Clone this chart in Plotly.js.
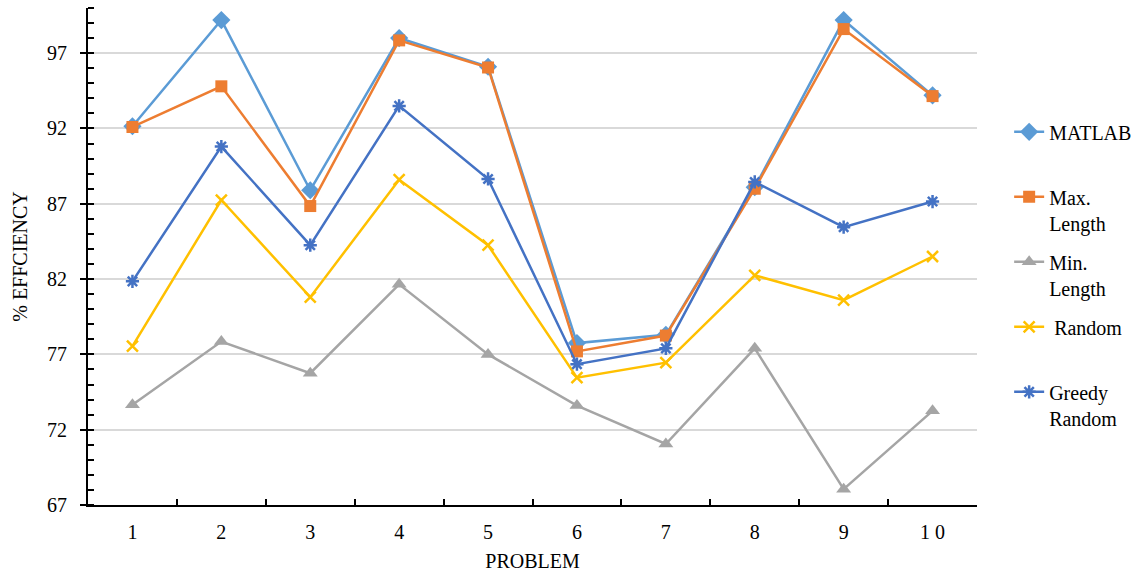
<!DOCTYPE html>
<html>
<head>
<meta charset="utf-8">
<script src="https://cdn.plot.ly/plotly-3.0.1.min.js"></script>
<style>html,body{margin:0;padding:0;background:#fff;}#chart{width:1144px;height:579px;}</style>
</head>
<body>
<div id="chart"></div>
<script>
const problems = ["1","2","3","4","5","6","7","8","9","10"];
const problemLabels = ["1","2","3","4","5","6","7","8","9","1 0"];
const matlab = [92.15, 99.2, 87.9, 98.0, 96.1, 77.75, 78.3, 88.1, 99.2, 94.2];
const maxLength = [92.1, 94.8, 86.85, 97.85, 96.05, 77.2, 78.25, 88.0, 98.6, 94.15];
const minLength = [73.65, 77.85, 75.75, 81.65, 77.0, 73.6, 71.05, 77.4, 68.05, 73.25];
const randomV = [77.55, 87.25, 80.8, 88.6, 84.25, 75.45, 76.45, 82.25, 80.6, 83.5];
const greedyRandom = [81.85, 90.8, 84.25, 93.5, 88.65, 76.35, 77.4, 88.45, 85.45, 87.15];

const names = ["MATLAB<br>\u00a0", "Max.<br>Length", "Min.<br>Length", "\u00a0Random<br>\u00a0", "Greedy<br>Random"];
const series = [matlab, maxLength, minLength, randomV, greedyRandom];
const colors = ["#5B9BD5", "#ED7D31", "#A5A5A5", "#FFC000", "#4472C4"];
const symbols = ["diamond", "square", "triangle-up", "x-thin-open", "asterisk-open"];
const sizes = [14, 12, 13, 11, 11];

const traces = series.map((s, i) => ({
  type: "scatter",
  mode: "lines+markers",
  x: problems,
  y: s,
  name: names[i],
  legendgroup: "g" + i,
  line: {color: colors[i], width: 2.5},
  marker: {symbol: symbols[i], size: sizes[i], color: colors[i], line: {color: colors[i], width: (i >= 3 ? 2.5 : 0)}}
}));

const font = {family: "Liberation Serif, Times New Roman, serif", size: 20, color: "#000"};

const layout = {
  width: 1144, height: 579,
  margin: {l: 88, r: 166, t: 8, b: 74},
  paper_bgcolor: "#fff", plot_bgcolor: "#fff",
  font: font,
  showlegend: true,
  legend: {
    x: 1.035, xanchor: "left", y: 0.79, yanchor: "top",
    font: font, valign: "top", traceorder: "grouped", tracegroupgap: 10,
    bgcolor: "rgba(0,0,0,0)"
  },
  xaxis: {
    type: "category",
    range: [-0.5, 9.5],
    tickvals: problems, ticktext: problemLabels,
    tickson: "boundaries",
    ticks: "inside", ticklen: 6, tickwidth: 2, tickcolor: "#000",
    showline: true, linecolor: "#000", linewidth: 2,
    showgrid: false, zeroline: false,
    ticklabelstandoff: 8,
    tickfont: font,
    title: {text: "PROBLEM", font: font, standoff: 12}
  },
  yaxis: {
    range: [67, 100],
    tick0: 67, dtick: 5,
    ticks: "outside", ticklen: 6, tickwidth: 2, tickcolor: "#000",
    minor: {ticks: "inside", ticklen: 6, tickwidth: 2, tickcolor: "#000", dtick: 1, tick0: 67, showgrid: false},
    showline: true, linecolor: "#000", linewidth: 2,
    showgrid: true, gridcolor: "#D9D9D9", gridwidth: 2,
    zeroline: false,
    ticklabelstandoff: 9,
    tickfont: font,
    title: {text: "% EFFCIENCY", font: font, standoff: 14}
  },
  yaxis2: {
    overlaying: "y", side: "left", range: [67, 100], tick0: 67, dtick: 5,
    ticks: "inside", ticklen: 6, tickwidth: 2, tickcolor: "#000",
    showticklabels: false, showgrid: false, zeroline: false, showline: false
  }
};

Plotly.newPlot("chart", traces, layout, {displayModeBar: false, staticPlot: true});
</script>
</body>
</html>
